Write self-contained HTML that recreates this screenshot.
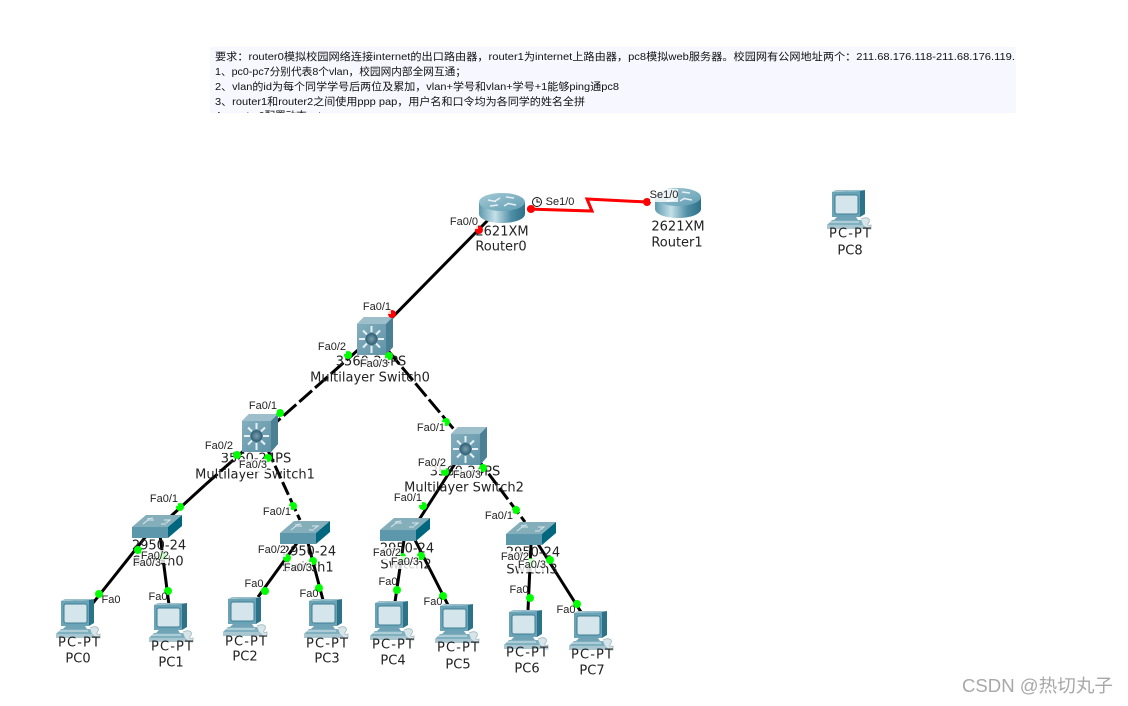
<!DOCTYPE html>
<html lang="zh">
<head>
<meta charset="utf-8">
<title>Network topology</title>
<style>
html,body{margin:0;padding:0;background:#fff;width:1128px;height:706px;overflow:hidden}
svg{display:block;position:absolute;left:0;top:0}
.n{font-family:"DejaVu Sans","Liberation Sans",sans-serif;font-size:13px;fill:#222;text-anchor:middle;dominant-baseline:central}
.p{font-family:"Liberation Sans",sans-serif;font-size:11px;fill:#222;text-anchor:middle;dominant-baseline:central}
.t{font-family:"Liberation Sans","Noto Sans CJK SC",sans-serif;font-size:10.5px;fill:#111}
.w{font-family:"Liberation Sans","Noto Sans CJK SC",sans-serif;font-size:18px;fill:#a8a8a8}
.bg{fill:#fff;fill-opacity:.8}
</style>
</head>
<body>
<svg width="1128" height="706" viewBox="0 0 1128 706" xmlns="http://www.w3.org/2000/svg">
<defs>
<linearGradient id="rg" x1="0" y1="0" x2="1" y2="0">
<stop offset="0" stop-color="#5d99ad"/><stop offset=".35" stop-color="#c4e0e8"/><stop offset=".7" stop-color="#4f8ea4"/><stop offset="1" stop-color="#2d7188"/>
</linearGradient>
<linearGradient id="rt" x1="0" y1="0" x2="1" y2="1">
<stop offset="0" stop-color="#a6cad6"/><stop offset="1" stop-color="#5f9db2"/>
</linearGradient>
<linearGradient id="cube" x1="0" y1="0" x2="1" y2="1">
<stop offset="0" stop-color="#83aebd"/><stop offset="1" stop-color="#5f93a7"/>
</linearGradient>
<radialGradient id="hub"><stop offset="0" stop-color="#7d9fae"/><stop offset="1" stop-color="#2f5e73"/></radialGradient>

<symbol id="router" viewBox="0 0 46 30" overflow="visible">
<path d="M0 9V21C0 26 10 30 23 30S46 26 46 21V9Z" fill="url(#rg)"/>
<ellipse cx="23" cy="9" rx="23" ry="9" fill="url(#rt)"/>
<path d="M9 7l8 1.500M29 10.500l8 1.500M21 5l-5 3M30 10l-5 3M27 4l8 1M11 13l8-1" stroke="#e4f0f4" stroke-width="1.400" fill="none"/>
</symbol>

<symbol id="ms" viewBox="0 0 36 38" overflow="visible">
<path d="M0 7L7 0H36V30L29 38H0Z" fill="#5f93a7"/>
<path d="M0 7L7 0H36L29 7Z" fill="#9dbfcb"/>
<path d="M29 7L36 0V30L29 38Z" fill="#4b8094"/>
<rect x="0" y="7" width="29" height="31" fill="url(#cube)"/>
<g stroke="#e6f0f3" stroke-width="2">
<path d="M14.500 9V15M14.500 29V36M2 22H8M21 22H27M6 13.500L10 17.500M19 26.500L23 30.500M23 13.500L19 17.500M10 26.500L6 30.500"/>
</g>
<circle cx="14.500" cy="22" r="6" fill="url(#hub)"/>
</symbol>

<symbol id="sw" viewBox="0 0 50 23" overflow="visible">
<path d="M0 12L14 0H50L36 12Z" fill="#85aebb"/>
<path d="M36 12L50 0V11L36 23Z" fill="#00677f"/>
<rect x="0" y="12" width="36" height="11" fill="#5c97ab"/>
<g stroke="#d8e8ed" stroke-width="1" fill="none">
<path d="M11 9L16 5H22M32 5H38L34 8M15 4L21 3M29 9H34"/>
</g>
</symbol>

<symbol id="pc" viewBox="0 0 45 42" overflow="visible">
<path d="M5 2L33 1L33 27L5 27Z" fill="#6ba3b6"/>
<path d="M33 1L38 0V24L33 27Z" fill="#2c7389"/>
<path d="M5 2L9 0H38L33 1Z" fill="#9cc0cb"/>
<rect x="8" y="5" width="23" height="19" rx="2" fill="#d5e5ec" stroke="#3f7f94"/>
<path d="M10 27H29L31 30H7Z" fill="#6fa3b5"/>
<path d="M5 30H34L39 35H0Z" fill="#7fb0bf"/>
<path d="M0 35H39V39H0Z" fill="#a8c7d1"/>
<path d="M3 32H32" stroke="#dbe9ed"/>
<path d="M34 29C40 26 44 29 42 32C40 35 40 36 44 35V39H40L36 35" fill="#d7e4e8" stroke="#9fb8c0" stroke-width=".8"/>
</symbol>
<clipPath id="panelclip"><rect x="210" y="47" width="806" height="66"/></clipPath>
</defs>

<rect x="210" y="47" width="806" height="66" fill="#f6f7ff"/>
<g clip-path="url(#panelclip)" class="t">
<text x="215" y="60" textLength="800" lengthAdjust="spacingAndGlyphs">要求：router0模拟校园网络连接internet的出口路由器，router1为internet上路由器，pc8模拟web服务器。校园网有公网地址两个：211.68.176.118-211.68.176.119.</text>
<text x="215" y="75" textLength="251" lengthAdjust="spacingAndGlyphs">1、pc0-pc7分别代表8个vlan，校园网内部全网互通；</text>
<text x="215" y="90" textLength="404" lengthAdjust="spacingAndGlyphs">2、vlan的id为每个同学学号后两位及累加，vlan+学号和vlan+学号+1能够ping通pc8</text>
<text x="215" y="105" textLength="370" lengthAdjust="spacingAndGlyphs">3、router1和router2之间使用ppp pap，用户名和口令均为各同学的姓名全拼</text>
<text x="215" y="119">4、router0配置动态nat</text>
</g>

<!-- links -->
<g fill="none" stroke="#000" stroke-width="3">
<path d="M490 218L375 335"/>
<path d="M375 335L205 485" stroke-dasharray="17 4"/>
<path d="M205 485L170 517"/>
<path d="M375 335L467 445" stroke-dasharray="17 4"/>
<path d="M260 433L300 520" stroke-dasharray="14 4"/>
<path d="M467 445L415 526"/>
<path d="M467 445L525 522" stroke-dasharray="14 4"/>
<path d="M147 535L93 603"/>
<path d="M160 535L169 605"/>
<path d="M297 543L258 597"/>
<path d="M308 543L323 600"/>
<path d="M404 540L395 602"/>
<path d="M415 540L448 605"/>
<path d="M531 544L528 610"/>
<path d="M538 544L581 612"/>
</g>
<path d="M527 209L592 211L587 199L647 202" fill="none" stroke="#f00" stroke-width="3"/>

<!-- devices -->
<use href="#router" x="479" y="193" width="46" height="30"/>
<use href="#router" x="655" y="188" width="46" height="30"/>
<use href="#ms" x="357" y="317" width="36" height="38"/>
<use href="#ms" x="242" y="414" width="36" height="38"/>
<use href="#ms" x="451" y="427" width="36" height="38"/>
<use href="#sw" x="132" y="515" width="50" height="23"/>
<use href="#sw" x="280" y="521" width="50" height="23"/>
<use href="#sw" x="380" y="518" width="50" height="23"/>
<use href="#sw" x="506" y="522" width="50" height="23"/>
<use href="#pc" x="56" y="599" width="45" height="42"/>
<use href="#pc" x="149" y="603" width="45" height="42"/>
<use href="#pc" x="223" y="597" width="45" height="42"/>
<use href="#pc" x="304" y="599" width="45" height="42"/>
<use href="#pc" x="370" y="601" width="45" height="42"/>
<use href="#pc" x="435" y="604" width="45" height="42"/>
<use href="#pc" x="504" y="610" width="45" height="42"/>
<use href="#pc" x="569" y="611" width="45" height="42"/>
<use href="#pc" x="827" y="190" width="45" height="42"/>

<!-- device labels -->
<g class="n">
<text x="502" y="232">2621XM</text><text x="501" y="247">Router0</text>
<text x="678" y="227">2621XM</text><text x="677" y="243">Router1</text>
<text x="371" y="362">3560-24PS</text><text x="370" y="378">Multilayer Switch0</text>
<text x="256" y="459">3560-24PS</text><text x="255" y="475">Multilayer Switch1</text>
<text x="465" y="472">3560-24PS</text><text x="464" y="488">Multilayer Switch2</text>
<text x="159" y="546">2950-24</text><text x="158" y="562">Switch0</text>
<text x="309" y="552">2950-24</text><text x="308" y="568">Switch1</text>
<text x="407" y="549">2950-24</text><text x="406" y="565">Switch2</text>
<text x="533" y="553">2950-24</text><text x="532" y="570">Switch3</text>
<text x="79" y="643" textLength="42">PC-PT</text><text x="78" y="659">PC0</text>
<text x="172" y="647" textLength="42">PC-PT</text><text x="171" y="663">PC1</text>
<text x="246" y="642" textLength="42">PC-PT</text><text x="245" y="657">PC2</text>
<text x="327" y="644" textLength="42">PC-PT</text><text x="327" y="659">PC3</text>
<text x="393" y="645" textLength="42">PC-PT</text><text x="393" y="661">PC4</text>
<text x="458" y="648" textLength="42">PC-PT</text><text x="458" y="665">PC5</text>
<text x="527" y="653" textLength="42">PC-PT</text><text x="527" y="669">PC6</text>
<text x="592" y="655" textLength="42">PC-PT</text><text x="592" y="671">PC7</text>
<text x="850" y="234" textLength="42">PC-PT</text><text x="850" y="251">PC8</text>
</g>

<!-- port dots -->
<g fill="#f00">
<circle cx="479" cy="230" r="4"/><circle cx="531" cy="209" r="4"/><circle cx="647" cy="202" r="4"/><circle cx="392" cy="314" r="4"/>
</g>
<g fill="#0f0">
<circle cx="348" cy="355" r="4"/><circle cx="389" cy="356" r="4"/>
<circle cx="280" cy="413" r="4"/><circle cx="237" cy="455" r="4"/><circle cx="268" cy="458" r="4"/>
<circle cx="446" cy="422" r="4"/><circle cx="445" cy="472" r="4"/><circle cx="483" cy="468" r="4"/>
<circle cx="180" cy="507" r="4"/><circle cx="293" cy="506" r="4"/><circle cx="423" cy="506" r="4"/><circle cx="516" cy="510" r="4"/>
<circle cx="138" cy="550" r="4"/><circle cx="163" cy="556" r="4"/><circle cx="287" cy="558" r="4"/><circle cx="313" cy="561" r="4"/>
<circle cx="402" cy="557" r="4"/><circle cx="421" cy="556" r="4"/><circle cx="530" cy="562" r="4"/><circle cx="550" cy="560" r="4"/>
<circle cx="99" cy="594" r="4"/><circle cx="168" cy="591" r="4"/><circle cx="265" cy="591" r="4"/><circle cx="319" cy="588" r="4"/>
<circle cx="397" cy="590" r="4"/><circle cx="443" cy="596" r="4"/><circle cx="530" cy="598" r="4"/><circle cx="577" cy="604" r="4"/>
</g>

<!-- port label backgrounds -->
<g class="bg">
<rect x="450" y="216" width="28" height="13"/><rect x="650" y="189" width="28" height="13"/>
<rect x="363" y="301" width="28" height="13"/><rect x="318" y="341" width="28" height="13"/><rect x="360" y="358" width="28" height="13"/>
<rect x="249" y="400" width="28" height="13"/><rect x="205" y="440" width="28" height="13"/><rect x="239" y="459" width="28" height="13"/>
<rect x="417" y="422" width="28" height="13"/><rect x="418" y="457" width="28" height="13"/><rect x="453" y="469" width="28" height="13"/>
<rect x="150" y="493" width="28" height="13"/><rect x="141" y="550" width="28" height="13"/><rect x="133" y="557" width="28" height="13"/>
<rect x="263" y="506" width="28" height="13"/><rect x="258" y="544" width="28" height="13"/><rect x="284" y="562" width="28" height="13"/>
<rect x="394" y="492" width="28" height="13"/><rect x="373" y="547" width="28" height="13"/><rect x="391" y="556" width="28" height="13"/>
<rect x="485" y="510" width="28" height="13"/><rect x="501" y="551" width="28" height="13"/><rect x="518" y="559" width="28" height="13"/>
</g>

<!-- clock -->
<g fill="none" stroke="#111">
<circle cx="537" cy="202" r="4.500"/><path d="M537 199V202H540"/>
</g>

<!-- port labels -->
<g class="p">
<text x="464" y="222">Fa0/0</text><text x="560" y="202">Se1/0</text><text x="664" y="195">Se1/0</text>
<text x="377" y="307">Fa0/1</text><text x="332" y="347">Fa0/2</text><text x="374" y="364">Fa0/3</text>
<text x="263" y="406">Fa0/1</text><text x="219" y="446">Fa0/2</text><text x="253" y="465">Fa0/3</text>
<text x="431" y="428">Fa0/1</text><text x="432" y="463">Fa0/2</text><text x="467" y="475">Fa0/3</text>
<text x="164" y="499">Fa0/1</text><text x="155" y="556">Fa0/2</text><text x="147" y="563">Fa0/3</text>
<text x="277" y="512">Fa0/1</text><text x="272" y="550">Fa0/2</text><text x="298" y="568">Fa0/3</text>
<text x="408" y="498">Fa0/1</text><text x="387" y="553">Fa0/2</text><text x="405" y="562">Fa0/3</text>
<text x="499" y="516">Fa0/1</text><text x="515" y="557">Fa0/2</text><text x="532" y="565">Fa0/3</text>
<text x="111" y="600">Fa0</text><text x="158" y="597">Fa0</text><text x="254" y="584">Fa0</text><text x="309" y="594">Fa0</text>
<text x="388" y="582">Fa0</text><text x="433" y="602">Fa0</text><text x="519" y="590">Fa0</text><text x="566" y="610">Fa0</text>
</g>

<text class="w" x="962" y="692" textLength="151" lengthAdjust="spacingAndGlyphs">CSDN @热切丸子</text>
</svg>
</body>
</html>
